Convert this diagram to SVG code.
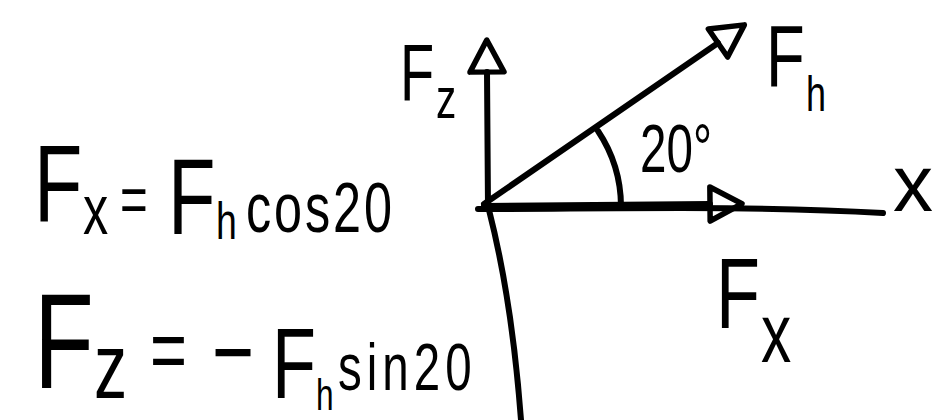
<svg xmlns="http://www.w3.org/2000/svg" width="944" height="420" viewBox="0 0 944 420">
<style>
.ink{fill:none;stroke:#000;stroke-width:6;stroke-linecap:round;stroke-linejoin:round}
.t{font-family:"Liberation Sans",Arial,sans-serif;fill:#000}
</style>
<defs>
<marker id="open" markerUnits="userSpaceOnUse" viewBox="-5 -22 44 44" markerWidth="44" markerHeight="44" refX="0" refY="0" orient="auto">
<path d="M0,-17 L32,0 L0,17 Z" fill="none" stroke="#000" stroke-width="5.5" stroke-linejoin="round"/>
</marker>
</defs>
<rect width="944" height="420" fill="#fff"/>
<g id="connectors">
<path class="ink" d="M478,209 C600,209 750,205 883,213"/>
<path class="ink" d="M489,210 Q512,300 521,420"/>
<path class="ink" d="M488,208 L487,72" marker-end="url(#open)"/>
<path class="ink" d="M484,204 L718,43" marker-end="url(#open)"/>
<path class="ink" d="M484,206 L710,204" marker-end="url(#open)"/>
<path class="ink" d="M598,131 A137,137 0 0 1 621,206"/>
</g>
<g id="eq-fx">
<text class="t" transform="scale(0.72,1)"><tspan x="47.2" y="222" font-size="110">F</tspan><tspan x="115.3" y="234" font-size="70">x</tspan><tspan x="166.7" y="222" font-size="66">=</tspan><tspan x="233.3" y="234" font-size="108">F</tspan><tspan x="300" y="239" font-size="52">h</tspan><tspan x="341.7" y="232" font-size="70" letter-spacing="4">cos20</tspan></text>
</g>
<g id="eq-fz">
<text class="t" transform="scale(0.72,1)"><tspan x="47.2" y="388" font-size="136">F</tspan><tspan x="130.6" y="398" font-size="92">z</tspan><tspan x="208.3" y="380" font-size="88">=</tspan><tspan x="294.4" y="386" font-size="100">−</tspan><tspan x="377.8" y="398" font-size="100">F</tspan><tspan x="438.9" y="410" font-size="44">h</tspan><tspan x="469.4" y="390" font-size="66" letter-spacing="7">sin20</tspan></text>
</g>
<g id="label-fz">
<text class="t" transform="scale(0.7,1)"><tspan x="571.4" y="100" font-size="80">F</tspan><tspan x="622.9" y="118" font-size="58">z</tspan></text>
</g>
<g id="label-fh">
<text class="t" transform="scale(0.72,1)"><tspan x="1063.9" y="86" font-size="88">F</tspan><tspan x="1119.4" y="111" font-size="50">h</tspan></text>
</g>
<g id="label-angle">
<text class="t" transform="scale(0.7,1)" x="914.3" y="172" font-size="68">20°</text>
</g>
<g id="label-x">
<text class="t" x="893" y="211" font-size="80">x</text>
</g>
<g id="label-fx">
<text class="t" transform="scale(0.72,1)"><tspan x="994.4" y="328" font-size="100">F</tspan><tspan x="1056.9" y="362" font-size="84">x</tspan></text>
</g>
</svg>
